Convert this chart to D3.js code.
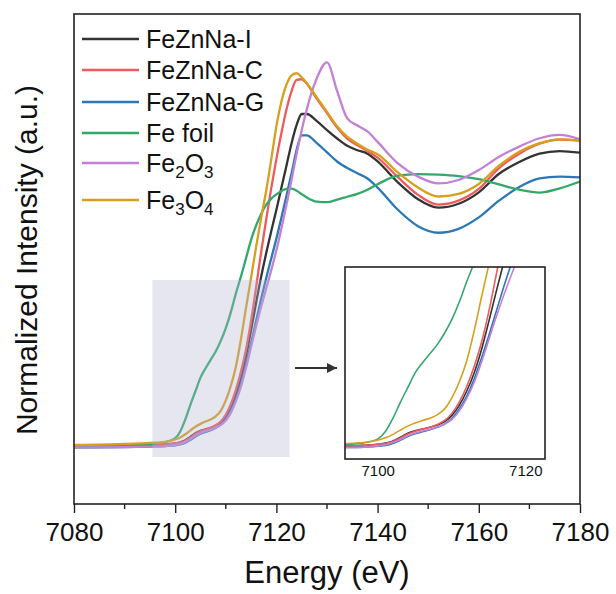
<!DOCTYPE html>
<html>
<head>
<meta charset="utf-8">
<script src="https://cdn.jsdelivr.net/npm/d3@7"></script>
<style>
  body { margin: 0; background: #fff; }
  svg { display: block; font-family: "Liberation Sans", Arial, sans-serif; }
</style>
</head>
<body>
<svg id="chart" width="616" height="594"></svg>
<script>
// energy grid (eV)
const energy = [7080, 7090, 7095, 7098,
  7100, 7101, 7102, 7103, 7104, 7105, 7106, 7107, 7108, 7109, 7110, 7111, 7112, 7113,
  7114, 7115, 7116, 7117, 7118, 7119, 7120, 7121, 7122, 7123, 7124, 7125, 7126,
  7128, 7130, 7132, 7134, 7136, 7138, 7140,
  7144, 7148, 7152, 7156, 7160, 7164, 7168, 7172, 7176, 7180];

// normalized absorption per sample
const feZnNaI = [-0.003, 0.0, 0.003, 0.006,
  0.010, 0.014, 0.022, 0.035, 0.049, 0.058, 0.064, 0.070, 0.078, 0.090, 0.112, 0.148, 0.198, 0.262,
  0.345, 0.445, 0.55, 0.65, 0.74, 0.825, 0.905, 0.99, 1.075, 1.16, 1.23, 1.272, 1.272,
  1.245, 1.21, 1.178, 1.15, 1.133, 1.12, 1.09,
  1.01, 0.945, 0.913, 0.928, 0.972, 1.043, 1.088, 1.12, 1.13, 1.124];

const feZnNaC = [-0.003, 0.0, 0.003, 0.006,
  0.010, 0.013, 0.020, 0.032, 0.046, 0.056, 0.063, 0.070, 0.080, 0.094, 0.120, 0.160, 0.215, 0.285,
  0.37, 0.48, 0.61, 0.745, 0.87, 0.99, 1.10, 1.20, 1.29, 1.36, 1.403, 1.405, 1.388,
  1.33, 1.275, 1.22, 1.178, 1.152, 1.13, 1.105,
  1.03, 0.962, 0.925, 0.94, 0.985, 1.065, 1.12, 1.158, 1.174, 1.17];

const feZnNaG = [-0.005, -0.004, -0.002, 0.0,
  0.003, 0.006, 0.013, 0.024, 0.037, 0.047, 0.054, 0.061, 0.070, 0.082, 0.102, 0.136, 0.18, 0.24,
  0.315, 0.395, 0.48, 0.565, 0.645, 0.72, 0.795, 0.875, 0.96, 1.045, 1.135, 1.19, 1.19,
  1.16, 1.125, 1.09, 1.065, 1.045, 1.025, 0.99,
  0.905, 0.842, 0.817, 0.832, 0.876, 0.94, 0.992, 1.025, 1.032, 1.029];

const feFoil = [-0.004, 0.0, 0.008, 0.015,
  0.030, 0.056, 0.102, 0.158, 0.21, 0.262, 0.298, 0.33, 0.362, 0.403, 0.452, 0.513, 0.585, 0.65,
  0.72, 0.79, 0.845, 0.89, 0.925, 0.948, 0.964, 0.977, 0.985, 0.986, 0.978, 0.965, 0.952,
  0.936, 0.934, 0.944, 0.955, 0.966, 0.982, 1.003,
  1.036, 1.042, 1.040, 1.034, 1.022, 1.002, 0.982, 0.971, 0.987, 1.013];

const fe2o3 = [-0.005, -0.004, -0.002, 0.0,
  0.004, 0.008, 0.016, 0.027, 0.040, 0.050, 0.057, 0.063, 0.071, 0.081, 0.098, 0.128, 0.172, 0.228,
  0.300, 0.38, 0.46, 0.535, 0.605, 0.675, 0.75, 0.835, 0.925, 1.02, 1.12, 1.21, 1.29,
  1.41, 1.47, 1.36, 1.255, 1.228, 1.205, 1.165,
  1.083, 1.032, 1.006, 1.019, 1.057, 1.108, 1.147, 1.179, 1.192, 1.175];

const fe3o4 = [0.004, 0.008, 0.012, 0.016,
  0.025, 0.033, 0.045, 0.060, 0.074, 0.085, 0.094, 0.102, 0.114, 0.135, 0.175, 0.231, 0.305, 0.41,
  0.53, 0.645, 0.765, 0.875, 0.98, 1.10, 1.225, 1.32, 1.385, 1.42, 1.428, 1.412, 1.39,
  1.335, 1.28, 1.225, 1.185, 1.158, 1.135, 1.118,
  1.048, 0.99, 0.956, 0.966, 1.004, 1.074, 1.127, 1.16, 1.175, 1.17];

const seriesNames = ["FeZnNa-I", "FeZnNa-C", "FeZnNa-G", "Fe foil", "Fe2O3", "Fe3O4"];
const seriesValues = [feZnNaI, feZnNaC, feZnNaG, feFoil, fe2o3, fe3o4];
const seriesColors = ["#333333", "#ef5a5c", "#2a78b8", "#33a86a", "#c480d6", "#d6a01c"];

const xTicks = [7080, 7100, 7120, 7140, 7160, 7180];
const xMinorTicks = [7090, 7110, 7130, 7150, 7170];
const insetTicks = [7100, 7120];
const zoomEnergy = [7095.5, 7122.6];
const zoomMu = [-0.042, 0.636];

const svg = d3.select("#chart");
const frame = {left: 74, right: 580, top: 14, bottom: 504};

const x = d3.scaleLinear().domain([7080, 7180]).range([frame.left, frame.right]);
const y = d3.scaleLinear().domain([-0.222, 1.655]).range([frame.bottom, frame.top]);

svg.append("clipPath").attr("id", "mainClip")
  .append("rect")
  .attr("x", frame.left).attr("y", frame.top)
  .attr("width", frame.right - frame.left).attr("height", frame.bottom - frame.top);

const mainLine = d3.line()
  .x((d, i) => x(energy[i]))
  .y(d => y(d))
  .curve(d3.curveMonotoneX);

// main curves
svg.append("g").attr("clip-path", "url(#mainClip)")
  .selectAll("path")
  .data(seriesValues)
  .enter()
  .append("path")
  .attr("d", d => mainLine(d))
  .attr("fill", "none")
  .attr("stroke", (d, i) => seriesColors[i])
  .attr("stroke-width", 2.3);

// shaded zoom region
svg.append("rect")
  .attr("x", x(zoomEnergy[0]))
  .attr("y", y(zoomMu[1]))
  .attr("width", x(zoomEnergy[1]) - x(zoomEnergy[0]))
  .attr("height", y(zoomMu[0]) - y(zoomMu[1]))
  .attr("fill", "#b0b4d0")
  .attr("opacity", 0.33);

// frame
svg.append("rect")
  .attr("x", frame.left).attr("y", frame.top)
  .attr("width", frame.right - frame.left).attr("height", frame.bottom - frame.top)
  .attr("fill", "none")
  .attr("stroke", "#222")
  .attr("stroke-width", 1.6);

// x axis
const xAxis = svg.append("g")
  .attr("transform", "translate(0," + frame.bottom + ")")
  .call(d3.axisBottom(x).tickValues(xTicks).tickSize(9).tickPadding(10).tickFormat(d3.format("d")));
xAxis.select(".domain").remove();
xAxis.selectAll("line").attr("stroke", "#222").attr("stroke-width", 1.4);
xAxis.selectAll("text")
  .attr("fill", "#111")
  .style("font-size", "26px")
  .style("font-family", "'Liberation Sans', Arial, sans-serif");

svg.append("g")
  .selectAll("line")
  .data(xMinorTicks)
  .enter()
  .append("line")
  .attr("x1", d => x(d)).attr("x2", d => x(d))
  .attr("y1", frame.bottom).attr("y2", frame.bottom + 5)
  .attr("stroke", "#222")
  .attr("stroke-width", 1.4);

// axis titles
svg.append("text")
  .attr("x", (frame.left + frame.right) / 2)
  .attr("y", 583)
  .attr("text-anchor", "middle")
  .style("font-size", "31px")
  .attr("fill", "#111")
  .text("Energy (eV)");

svg.append("text")
  .attr("transform", "translate(37,260) rotate(-90)")
  .attr("text-anchor", "middle")
  .style("font-size", "30px")
  .attr("fill", "#111")
  .text("Normalized Intensity (a.u.)");

// inset
const inset = {left: 345, right: 545, top: 267, bottom: 459};
const xi = d3.scaleLinear().domain(zoomEnergy).range([inset.left, inset.right]);
const yi = d3.scaleLinear().domain(zoomMu).range([inset.bottom, inset.top]);

svg.append("clipPath").attr("id", "insetClip")
  .append("rect")
  .attr("x", inset.left).attr("y", inset.top)
  .attr("width", inset.right - inset.left).attr("height", inset.bottom - inset.top);

svg.append("rect")
  .attr("x", inset.left).attr("y", inset.top)
  .attr("width", inset.right - inset.left).attr("height", inset.bottom - inset.top)
  .attr("fill", "#fff");

const insetLine = d3.line()
  .x((d, i) => xi(energy[i]))
  .y(d => yi(d))
  .curve(d3.curveMonotoneX);

svg.append("g").attr("clip-path", "url(#insetClip)")
  .selectAll("path")
  .data(seriesValues)
  .enter()
  .append("path")
  .attr("d", d => insetLine(d))
  .attr("fill", "none")
  .attr("stroke", (d, i) => seriesColors[i])
  .attr("stroke-width", 1.6);

svg.append("rect")
  .attr("x", inset.left).attr("y", inset.top)
  .attr("width", inset.right - inset.left).attr("height", inset.bottom - inset.top)
  .attr("fill", "none")
  .attr("stroke", "#222")
  .attr("stroke-width", 1.6);

svg.append("g")
  .selectAll("text")
  .data(insetTicks)
  .enter()
  .append("text")
  .attr("x", d => xi(d))
  .attr("y", 476)
  .attr("text-anchor", "middle")
  .style("font-size", "15px")
  .attr("fill", "#111")
  .text(d => d);

// arrow to inset
svg.append("defs").append("marker")
  .attr("id", "arrowHead")
  .attr("viewBox", "0 0 10 10")
  .attr("refX", 10).attr("refY", 5)
  .attr("markerWidth", 6).attr("markerHeight", 5)
  .attr("markerUnits", "strokeWidth")
  .attr("orient", "auto")
  .append("path")
  .attr("d", "M0,0 L10,5 L0,10 z")
  .attr("fill", "#333");

svg.append("line")
  .attr("x1", 295).attr("y1", 368)
  .attr("x2", 337).attr("y2", 368)
  .attr("stroke", "#333")
  .attr("stroke-width", 2)
  .attr("marker-end", "url(#arrowHead)");

// legend
const legendLineY = [39, 70, 102, 133, 163, 200];
const legend = svg.append("g");
seriesNames.forEach((name, i) => {
  legend.append("line")
    .attr("x1", 82).attr("x2", 139)
    .attr("y1", legendLineY[i]).attr("y2", legendLineY[i])
    .attr("stroke", seriesColors[i])
    .attr("stroke-width", 2.5);
  const t = legend.append("text")
    .attr("x", 146)
    .attr("y", legendLineY[i] + 9)
    .style("font-size", "25px")
    .attr("fill", "#111");
  const m = name.match(/^Fe(\d)O(\d)$/);
  if (m) {
    t.append("tspan").text("Fe");
    t.append("tspan").attr("dy", 6).style("font-size", "17px").text(m[1]);
    t.append("tspan").attr("dy", -6).text("O");
    t.append("tspan").attr("dy", 6).style("font-size", "17px").text(m[2]);
  } else {
    t.text(name);
  }
});
</script>
</body>
</html>
